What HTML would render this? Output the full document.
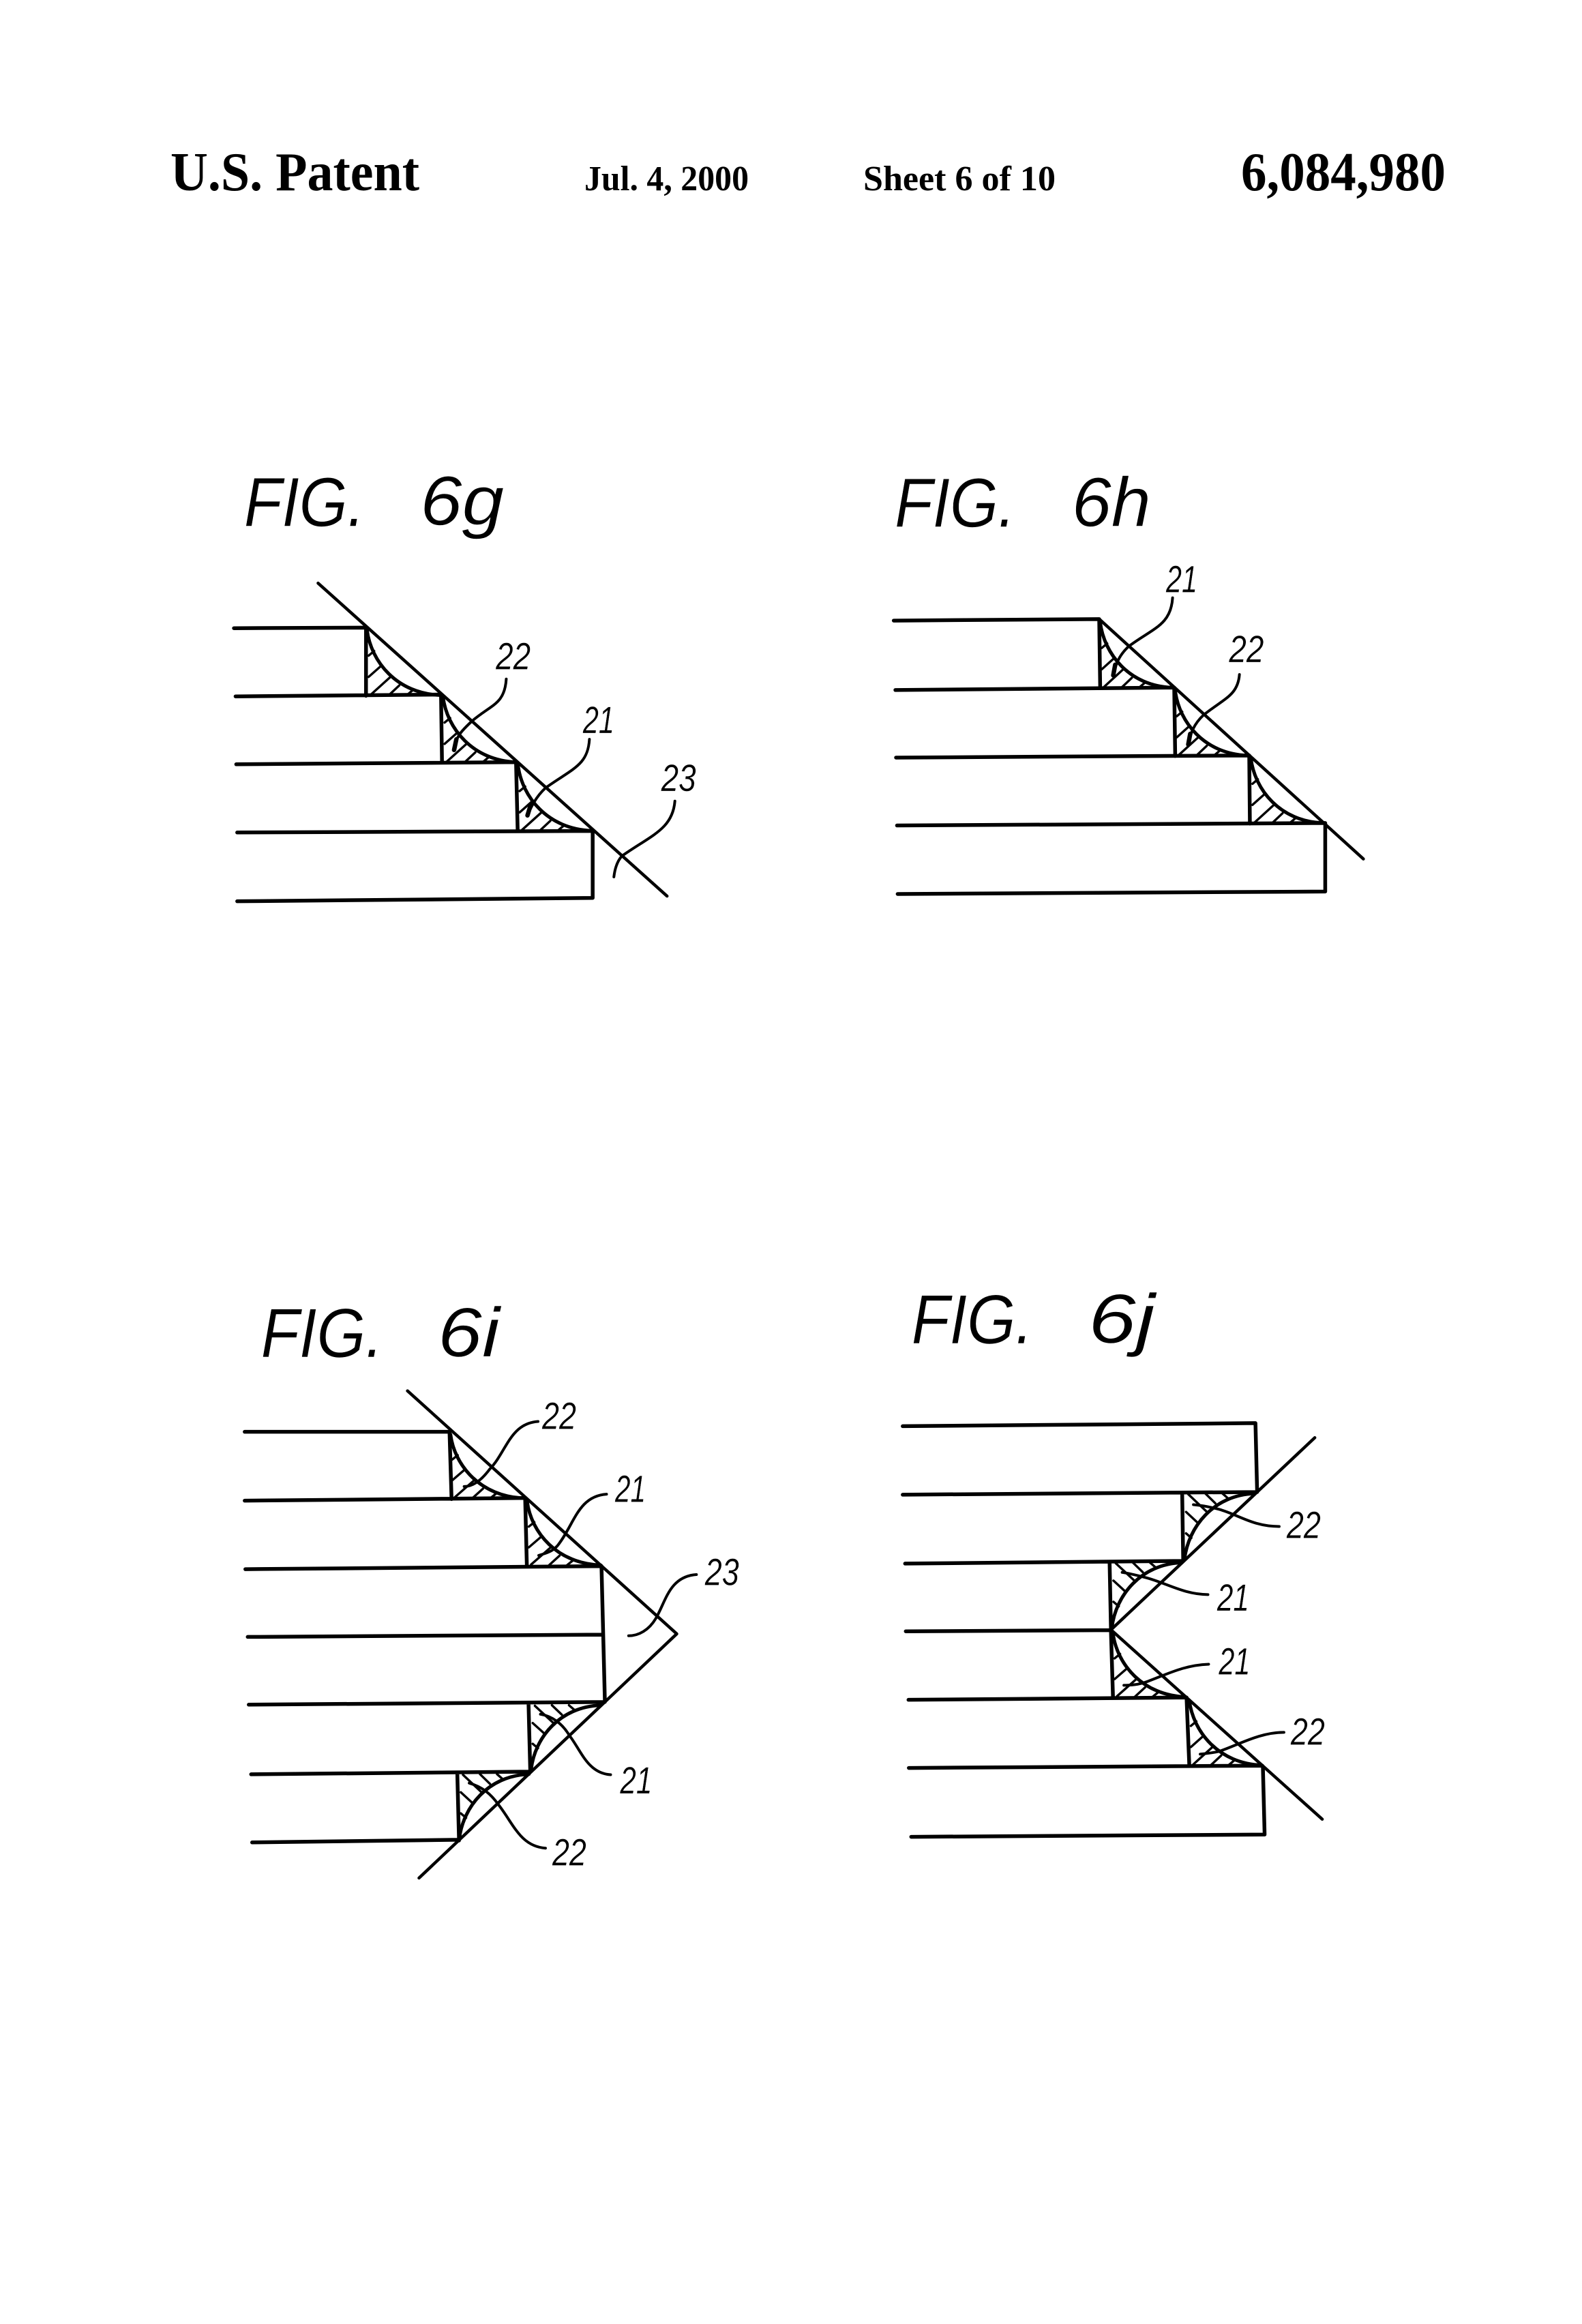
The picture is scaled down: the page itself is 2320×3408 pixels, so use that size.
<!DOCTYPE html>
<html>
<head>
<meta charset="utf-8">
<style>
html,body{margin:0;padding:0;background:#fff}
svg{display:block}
path{vector-effect:non-scaling-stroke;fill:none;stroke:#000;stroke-linecap:round;stroke-linejoin:round}
.m{stroke-width:4.5}
.d{stroke-width:4.5}
.c{stroke-width:5}
.h{stroke-width:3.4}
.v{stroke-width:5.5}
.l{stroke-width:4}
.t2{stroke-width:6.5}
text{fill:#000}
.f{font-family:"Liberation Sans",sans-serif;font-style:italic;font-size:102px;stroke:#fff;stroke-width:.5px}
.n{font-family:"Liberation Sans",sans-serif;font-style:italic;font-size:56px;stroke:#fff;stroke-width:.3px}
.t{font-family:"Liberation Serif",serif;font-weight:bold}
</style>
</head>
<body>
<svg width="2320" height="3408" viewBox="0 0 2320 3408" xmlns="http://www.w3.org/2000/svg">
<rect width="2320" height="3408" fill="#fff"/>
<defs>
<g id="fil">
<path class="c" d="M3,5 C15,110 95,215 228,220"/>
<path class="h" d="M8,160 L45,125 M15,218 L75,160 M70,220 L102,188 M125,220 L145,202 M8,90 L25,75"/>
</g>
</defs>

<text class="t" x="250" y="279" font-size="80" textLength="365" lengthAdjust="spacingAndGlyphs">U.S. Patent</text>
<text class="t" x="857" y="279" font-size="52" textLength="241" lengthAdjust="spacingAndGlyphs">Jul. 4, 2000</text>
<text class="t" x="1266" y="279" font-size="52" textLength="282" lengthAdjust="spacingAndGlyphs">Sheet 6 of 10</text>
<text class="t" x="1820" y="279" font-size="80" textLength="300" lengthAdjust="spacingAndGlyphs">6,084,980</text>

<!-- FIG 6g -->
<g transform="translate(300,640) scale(0.4783,0.4464)">
<path class="v" d="M90,630 L495,628 L495,852 M95,854 L725,848 L728,1070 M97,1077 L955,1070 L960,1295 M100,1301 L1190,1296 L1190,1516 L100,1527"/>
<path class="d" d="M348,482 L1418,1510"/>
<use href="#fil" transform="translate(495,630) scale(1,1)"/>
<use href="#fil" transform="translate(728,850) scale(1,1)"/>
<use href="#fil" transform="translate(958,1075) scale(1,1)"/>
<path class="l" d="M925,797 C920,880 880,880 820,935 C790,965 770,985 765,1030"/>
<path class="t2" d="M772,995 L765,1030"/>
<path class="l" d="M1180,995 C1175,1080 1130,1090 1045,1155 C1015,1185 1000,1220 990,1245"/>
<path class="t2" d="M1000,1210 L990,1245"/>
<path class="l" d="M1442,1198 C1435,1290 1370,1310 1280,1378 C1265,1395 1258,1420 1255,1447"/>
<text class="f" transform="translate(121,295) scale(2.0907,2.24)" textLength="177" lengthAdjust="spacingAndGlyphs">FIG.</text>
<text class="f" transform="translate(661,290) scale(2.0907,2.24)" textLength="123" lengthAdjust="spacingAndGlyphs">6g</text>
<text class="n" transform="translate(893,765) scale(2.0907,2.24)" textLength="51" lengthAdjust="spacingAndGlyphs">22</text>
<text class="n" transform="translate(1160,975) scale(2.0907,2.24)" textLength="46" lengthAdjust="spacingAndGlyphs">21</text>
<text class="n" transform="translate(1400,1165) scale(2.0907,2.24)" textLength="51" lengthAdjust="spacingAndGlyphs">23</text>
</g>

<!-- FIG 6h -->
<g transform="translate(1270,640) scale(0.4783,0.4464)">
<path class="v" d="M85,605 L715,600 L718,825 M90,833 L945,825 L948,1050 M92,1055 L1175,1048 L1177,1272 M95,1278 L1408,1270 L1408,1495 L97,1503"/>
<path class="d" d="M715,600 L1525,1388"/>
<use href="#fil" transform="translate(715,605) scale(0.98,1)"/>
<use href="#fil" transform="translate(945,830) scale(0.98,0.99)"/>
<use href="#fil" transform="translate(1177,1052) scale(0.98,0.99)"/>
<path class="l" d="M940,530 C935,620 880,630 805,690 C775,720 765,750 758,785"/>
<path class="t2" d="M764,750 L758,785"/>
<path class="l" d="M1145,782 C1140,850 1100,860 1035,915 C1005,945 995,975 988,1012"/>
<path class="t2" d="M994,977 L988,1012"/>
<text class="f" transform="translate(88,297) scale(2.0907,2.24)" textLength="177" lengthAdjust="spacingAndGlyphs">FIG.</text>
<text class="f" transform="translate(631,295) scale(2.0907,2.24)" textLength="116" lengthAdjust="spacingAndGlyphs">6h</text>
<text class="n" transform="translate(920,512) scale(2.0907,2.24)" textLength="46" lengthAdjust="spacingAndGlyphs">21</text>
<text class="n" transform="translate(1113,742) scale(2.0907,2.24)" textLength="51" lengthAdjust="spacingAndGlyphs">22</text>
</g>

<!-- FIG 6i -->
<g transform="translate(320,1860) scale(0.4974,0.5612)">
<path class="v" d="M78,427 L682,427 L688,603 M78,607 L905,600 L910,778 M80,786 L1130,778 L1140,1130 M87,963 L1130,957 M90,1140 L1140,1133 M915,1140 L920,1312 M97,1322 L920,1315 M705,1322 L710,1495 M100,1500 L710,1493"/>
<path class="d" d="M558,320 L1352,955 L592,1593"/>
<use href="#fil" transform="translate(682,430) scale(0.965,0.775)"/>
<use href="#fil" transform="translate(908,605) scale(0.965,0.775)"/>
<use href="#fil" transform="translate(920,1312) scale(0.913,-0.775)"/>
<use href="#fil" transform="translate(708,1495) scale(0.913,-0.788)"/>
<path class="l" d="M943,400 C860,405 850,480 800,525 C775,555 750,570 725,570"/>
<path class="l" d="M1145,590 C1060,595 1050,670 1000,725 C985,740 965,745 945,750"/>
<path class="l" d="M1410,800 C1330,805 1320,870 1290,915 C1270,945 1240,960 1210,960"/>
<path class="l" d="M1157,1323 C1090,1320 1070,1260 1035,1220 C1015,1190 985,1170 950,1165"/>
<path class="l" d="M965,1515 C890,1510 870,1450 825,1400 C805,1375 780,1355 740,1345"/>
<text class="f" transform="translate(126,232) scale(2.0103,1.7818)" textLength="179" lengthAdjust="spacingAndGlyphs">FIG.</text>
<text class="f" transform="translate(647,230) scale(2.0103,1.7818)" textLength="91" lengthAdjust="spacingAndGlyphs">6i</text>
<text class="n" transform="translate(955,420) scale(2.0103,1.7818)" textLength="50" lengthAdjust="spacingAndGlyphs">22</text>
<text class="n" transform="translate(1170,610) scale(2.0103,1.7818)" textLength="45" lengthAdjust="spacingAndGlyphs">21</text>
<text class="n" transform="translate(1435,828) scale(2.0103,1.7818)" textLength="50" lengthAdjust="spacingAndGlyphs">23</text>
<text class="n" transform="translate(1185,1372) scale(2.0103,1.7818)" textLength="47" lengthAdjust="spacingAndGlyphs">21</text>
<text class="n" transform="translate(985,1560) scale(2.0103,1.7818)" textLength="50" lengthAdjust="spacingAndGlyphs">22</text>
</g>

<!-- FIG 6j -->
<g transform="translate(1290,1840) scale(0.4974,0.5612)">
<path class="v" d="M68,448 L1108,440 L1113,620 M68,627 L1113,620 M892,625 L895,800 M75,807 L895,800 M678,805 L682,980 M77,984 L680,981 M682,985 L688,1157 M85,1163 L905,1157 M905,1160 L913,1335 M86,1341 L1128,1335 M1130,1340 L1135,1515 L93,1521"/>
<path class="d" d="M1283,478 L682,980 L1305,1475"/>
<use href="#fil" transform="translate(896,800) scale(0.92,-0.8)"/>
<use href="#fil" transform="translate(682,978) scale(0.92,-0.79)"/>
<use href="#fil" transform="translate(685,985) scale(0.955,0.775)"/>
<use href="#fil" transform="translate(910,1160) scale(0.95,0.79)"/>
<path class="l" d="M1178,710 C1100,710 1060,680 1000,665 C970,658 950,655 925,653"/>
<path class="l" d="M968,888 C900,888 850,860 790,845 C760,838 740,833 715,830"/>
<path class="l" d="M970,1070 C900,1072 850,1095 790,1115 C770,1122 745,1125 720,1125"/>
<path class="l" d="M1192,1248 C1120,1248 1060,1280 1000,1298 C980,1302 965,1303 945,1305"/>
<text class="f" transform="translate(94,232) scale(2.0103,1.7818)" textLength="178" lengthAdjust="spacingAndGlyphs">FIG.</text>
<text class="f" transform="translate(615,230) scale(2.0103,1.7818)" textLength="98" lengthAdjust="spacingAndGlyphs">6j</text>
<text class="n" transform="translate(1200,740) scale(2.0103,1.7818)" textLength="50" lengthAdjust="spacingAndGlyphs">22</text>
<text class="n" transform="translate(995,930) scale(2.0103,1.7818)" textLength="47" lengthAdjust="spacingAndGlyphs">21</text>
<text class="n" transform="translate(1000,1097) scale(2.0103,1.7818)" textLength="46" lengthAdjust="spacingAndGlyphs">21</text>
<text class="n" transform="translate(1212,1280) scale(2.0103,1.7818)" textLength="50" lengthAdjust="spacingAndGlyphs">22</text>
</g>
</svg>
</body>
</html>
